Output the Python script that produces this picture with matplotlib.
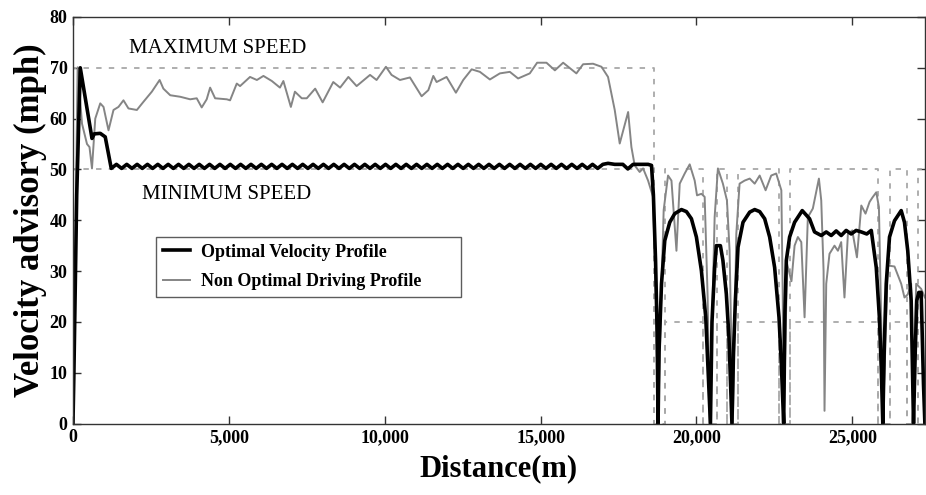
import numpy as np
import matplotlib
matplotlib.use("Agg")
import matplotlib.pyplot as plt

# speed limits (mph) along the route
limit_dist = [0, 0, 18650, 18650, 18990, 18990, 20210, 20210, 20650, 20650,
              20970, 20970, 21350, 21350, 22640, 22640, 22990, 22990, 25810,
              25810, 26200, 26200, 26770, 26770, 27100, 27100, 27400]
max_speed = [0, 70, 70, 0, 0, 50, 50, 0, 0, 50, 50, 0, 0, 50, 50, 0, 0, 50,
             50, 0, 0, 50, 50, 0, 0, 50, 50]
min_speed = [0, 50, 50, 0, 0, 20, 20, 0, 0, 20, 20, 0, 0, 20, 20, 0, 0, 20,
             20, 0, 0, 20, 20, 0, 0, 20, 20]

# optimal profile: start, cruise ripple, end of cruise, urban part
opt_start_dist = [0, 30, 120, 234, 610, 683, 875, 1035]
opt_start_speed = [0, 10, 45, 70, 56.1, 57.0, 57.1, 56.4]

ripple_dist = np.linspace(1228, 17165, 97)
ripple_speed = [
    50.2, 51.0, 50.2, 51.0, 50.2, 51.0, 50.2, 51.0, 50.2, 51.0, 50.2, 51.0,
    50.2, 51.0, 50.2, 51.0, 50.2, 51.0, 50.2, 51.0, 50.2, 51.0, 50.2, 51.0,
    50.2, 51.0, 50.2, 51.0, 50.2, 51.0, 50.2, 51.0, 50.2, 51.0, 50.2, 51.0,
    50.2, 51.0, 50.2, 51.0, 50.2, 51.0, 50.2, 51.0, 50.2, 51.0, 50.2, 51.0,
    50.2, 51.0, 50.2, 51.0, 50.2, 51.0, 50.2, 51.0, 50.2, 51.0, 50.2, 51.0,
    50.2, 51.0, 50.2, 51.0, 50.2, 51.0, 50.2, 51.0, 50.2, 51.0, 50.2, 51.0,
    50.2, 51.0, 50.2, 51.0, 50.2, 51.0, 50.2, 51.0, 50.2, 51.0, 50.2, 51.0,
    50.2, 51.0, 50.2, 51.0, 50.2, 51.0, 50.2, 51.0, 50.2, 51.0, 50.2, 51.0,
    51.2,
]

opt_end_dist = [
    17380, 17640, 17800, 17970, 18200, 18450, 18560, 18620, 18690, 18740, 18770,
    18800, 18880, 18985, 19145, 19305, 19520, 19680, 19840, 20000, 20160, 20300,
    20370, 20450, 20500, 20585, 20640, 20770, 20850, 20960, 21045, 21140, 21190,
    21250, 21335, 21495, 21710, 21870, 22030, 22190, 22350, 22510, 22650, 22725,
    22800, 22840, 22885, 22990, 23150, 23395, 23630, 23790, 24005, 24165, 24325,
    24485, 24645, 24805, 24965, 25125, 25290, 25465, 25610, 25770, 25870, 25930,
    25980, 26030, 26090, 26195, 26355, 26570, 26675, 26780, 26890, 26965, 27020,
    27070, 27135, 27210, 27285, 27330,
]
opt_end_speed = [
    51.0, 51.0, 50.1, 51.0, 51.0, 51.0, 50.8, 45, 32, 18, 0,
    14, 27.5, 36.0, 39.6, 41.3, 42.1, 41.7, 40.3, 36.7, 30.1, 20.9,
    11.0, 0, 20, 30.7, 35.0, 35.0, 32.1, 25.5, 16.9, 0, 14,
    24.2, 34.7, 39.6, 41.6, 42.1, 41.7, 40.3, 36.7, 30.7, 20.9, 11.7,
    0, 22, 32.1, 36.7, 39.6, 41.9, 40.3, 37.7, 37.0, 37.7, 37.0,
    37.9, 37.0, 38.0, 37.3, 38.0, 37.7, 37.3, 38.0, 30.7, 20.9, 11.0,
    0, 16, 27.5, 36.7, 39.9, 41.9, 39.6, 34.0, 24.2, 0, 14,
    24.2, 25.8, 25.8, 7.8, 0,
]

# recorded (non optimal) driving profile
drv_dist = [
    0, 74, 150, 290, 450, 530, 610, 715, 875, 980, 1140, 1300, 1460, 1620,
    1780, 2050, 2260, 2530, 2780, 2900, 3120, 3440, 3760, 3970, 4130, 4290,
    4400, 4560, 4935, 5040, 5255, 5360, 5680, 5900, 6110, 6380, 6640, 6750,
    6990, 7120, 7340, 7500, 7770, 8010, 8350, 8570, 8835, 9100, 9530, 9740,
    10040, 10220, 10490, 10810, 11185, 11400, 11560, 11665, 11985, 12285,
    12520, 12790, 13055, 13375, 13695, 14015, 14280, 14655, 14890, 15190,
    15460, 15725, 16150, 16365, 16685, 16955, 17165, 17380, 17540, 17810,
    17915, 18020, 18180, 18290, 18450, 18610, 18700, 18770, 18850, 18950,
    19090, 19200, 19360, 19465, 19625, 19785, 19945, 20020, 20160, 20265,
    20360, 20425, 20585, 20690, 20850, 20980, 21065, 21170, 21280, 21385,
    21545, 21710, 21870, 22030, 22220, 22400, 22560, 22725, 22770, 22800,
    22910, 23050, 23150, 23255, 23365, 23470, 23575, 23735, 23930, 24005,
    24080, 24110, 24165, 24270, 24430, 24540, 24645, 24750, 24860, 25000,
    25150, 25290, 25425, 25555, 25650, 25770, 25855, 25930, 25980, 26060,
    26140, 26355, 26570, 26675, 26780, 26890, 26940, 26965, 27000, 27050,
    27210, 27330,
]
drv_speed = [
    0, 35, 70.1, 59.0, 55.0, 54.4, 50.2, 60.0, 63.0, 62.3, 57.7, 61.7, 62.3,
    63.6, 62.0, 61.7, 63.3, 65.3, 67.6, 65.9, 64.6, 64.3, 63.8, 64.0, 62.2,
    63.8, 66.1, 64.0, 63.8, 63.6, 66.9, 66.4, 68.2, 67.6, 68.4, 67.4, 66.1,
    67.4, 62.3, 65.3, 64.0, 64.0, 65.9, 63.2, 67.2, 66.1, 68.2, 66.4, 68.6,
    67.6, 70.2, 68.6, 67.6, 68.1, 64.4, 65.6, 68.4, 67.2, 68.2, 65.1, 67.6,
    69.7, 69.2, 67.7, 68.9, 69.2, 67.9, 68.9, 71.0, 71.0, 69.5, 71.0, 68.9,
    70.7, 70.8, 70.2, 68.2, 61.7, 55.1, 61.3, 54.4, 50.8, 49.5, 50.2, 47.8,
    44.6, 25, 0, 20, 42, 48.8, 47.8, 34.0, 47.2, 49.2, 51.0, 47.8, 44.9,
    45.2, 44.6, 25, 0, 40.6, 50.2, 47.2, 43.9, 34.0, 0, 37.3, 47.2, 47.8,
    48.2, 47.2, 48.8, 45.9, 48.8, 49.2, 45.9, 25, 0, 31.4, 28, 35, 36.7,
    35.7, 20.9, 40.6, 42.3, 48.2, 43.9, 30, 2.5, 27.5, 33.4, 35.0, 34.0,
    35.7, 24.8, 37.3, 38.0, 32.7, 42.9, 41.3, 43.6, 44.5, 45.5, 42.6, 20, 0,
    15, 31.1, 30.9, 27.5, 24.8, 25.4, 27.5, 10, 0, 15, 27.5, 26.5, 24.8,
]

opt_dist = np.concatenate([opt_start_dist, ripple_dist, opt_end_dist])
opt_speed = np.concatenate([opt_start_speed, ripple_speed, opt_end_speed])

plt.rcParams["font.family"] = ["Liberation Serif", "DejaVu Serif"]

fig = plt.figure(figsize=(9.26, 4.95), dpi=100)
ax = fig.add_axes([0.0788, 0.1444, 0.92, 0.8213])

ax.plot(limit_dist, max_speed, color="#a8a8a8", lw=1.3, ls=(0, (3, 4)))
ax.plot(limit_dist, min_speed, color="#a8a8a8", lw=1.3, ls=(0, (3, 4)))
ax.plot(drv_dist, drv_speed, color="#858585", lw=1.4,
        label="Non Optimal Driving Profile")
ax.plot(opt_dist, opt_speed, color="black", lw=2.6,
        label="Optimal Velocity Profile")

ax.text(4650, 73.7, "MAXIMUM SPEED", fontsize=15, ha="center", va="center")
ax.text(4945, 45.1, "MINIMUM SPEED", fontsize=15, ha="center", va="center")

ax.set_xlim(0, 27330)
ax.set_ylim(0, 80)
ax.set_xticks([0, 5000, 10000, 15000, 20000, 25000])
ax.set_xticklabels(["0", "5,000", "10,000", "15,000", "20,000", "25,000"])
ax.set_yticks(range(0, 81, 10))
ax.tick_params(direction="in", top=True, right=True, length=6, width=1,
               color="#333333", labelsize=13, pad=4)
for lab in ax.get_xticklabels() + ax.get_yticklabels():
    lab.set_fontweight("bold")
for s in ax.spines.values():
    s.set_color("#333333")
    s.set_linewidth(1.0)

ax.set_xlabel("Distance(m)", fontsize=22, fontweight="bold", labelpad=6)
ax.set_ylabel("Velocity advisory (mph)", fontsize=25, fontweight="bold",
              labelpad=2)

handles, labels = ax.get_legend_handles_labels()
leg = ax.legend(handles[::-1], labels[::-1], loc="upper left",
                bbox_to_anchor=(0.0974, 0.309, 0.358, 0.15), mode="expand",
                prop={"weight": "bold", "size": 13}, frameon=True,
                fancybox=False, edgecolor="#333333", borderpad=0.37,
                handlelength=1.5, handletextpad=0.65, labelspacing=0.7,
                borderaxespad=0)
leg.get_frame().set_linewidth(1.0)

fig.savefig("out.png", dpi=100)
